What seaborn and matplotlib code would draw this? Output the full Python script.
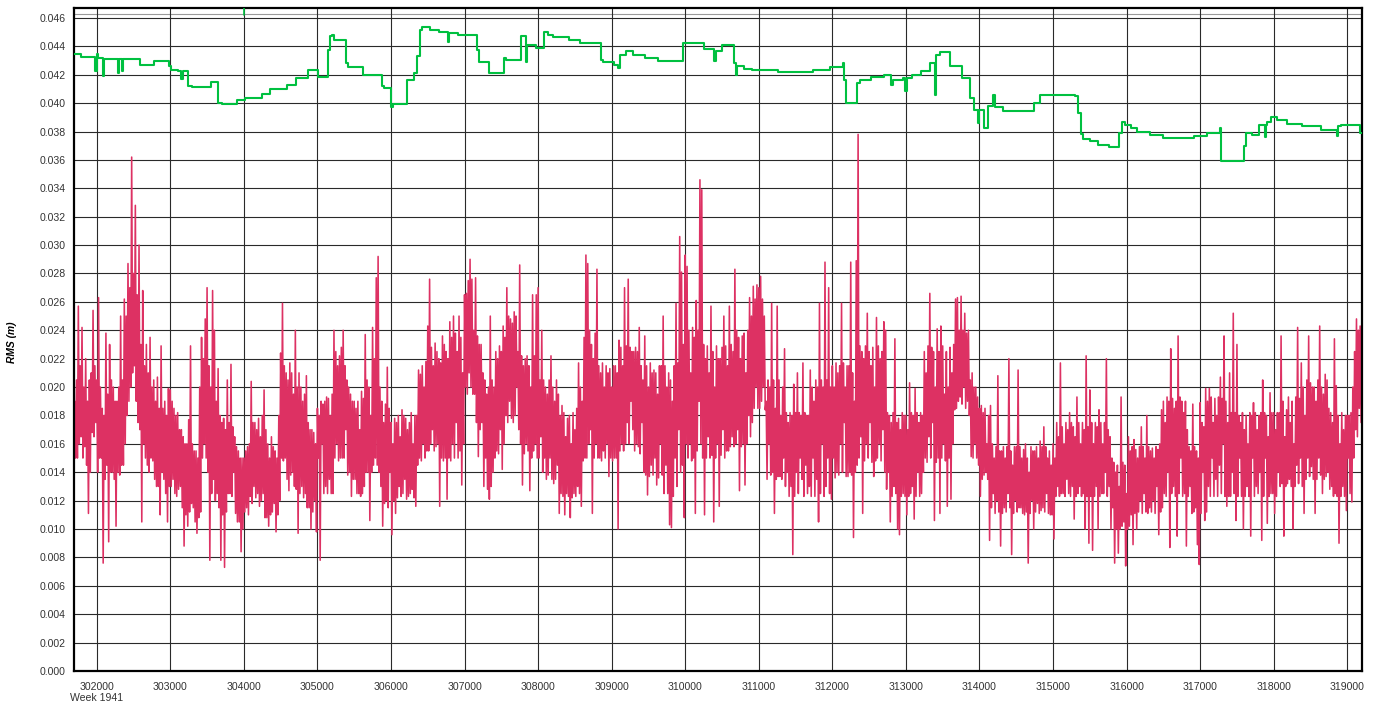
import numpy as np
import pandas as pd
import matplotlib
matplotlib.use("Agg")
import matplotlib.pyplot as plt
import seaborn as sns

# ---- data -------------------------------------------------------------
# Instantaneous RMS of GPS week 1941, decimated to 25 s bins starting at
# second 301700: per bin the maximum (hi) and minimum (lo), in 0.1 mm.
EPOCH_START = 301700
BIN_SECONDS = 25

hi_301700 = [190, 205, 257, 215, 242, 200, 220, 190, 205, 210, 254, 215]
lo_301700 = [150, 150, 160, 165, 150, 158, 145, 111, 140, 168, 165, 175]

hi_302000 = [205, 263, 200, 185, 180, 238, 195, 230, 205, 200, 190, 190, 200, 250, 205, 262, 250, 287, 270, 362,
             280, 328, 265, 300, 230, 268, 215, 230, 210, 235, 200, 205, 190, 207, 185, 229, 185, 190, 180, 199]
lo_302000 = [140, 150, 150, 76, 135, 145, 91, 140, 140, 135, 102, 140, 138, 145, 145, 160, 180, 190, 200, 210,
             215, 190, 175, 170, 105, 160, 150, 145, 140, 150, 148, 135, 130, 130, 110, 140, 135, 125, 105, 130]

hi_303000 = [198, 190, 185, 180, 182, 170, 170, 165, 160, 160, 177, 229, 160, 155, 155, 150, 200, 235, 220, 248,
             270, 215, 200, 268, 240, 190, 213, 180, 175, 178, 170, 205, 175, 216, 172, 165, 158, 155, 150, 150]
lo_303000 = [130, 135, 125, 123, 128, 130, 115, 88, 110, 102, 112, 118, 115, 105, 97, 108, 112, 150, 160, 150,
             140, 78, 125, 135, 120, 125, 115, 78, 110, 73, 112, 125, 125, 123, 140, 111, 105, 105, 84, 100]

hi_304000 = [150, 155, 158, 160, 204, 175, 175, 170, 178, 165, 180, 198, 170, 160, 150, 165, 158, 155, 150, 180,
             224, 259, 215, 210, 205, 217, 210, 195, 240, 200, 210, 200, 190, 195, 208, 175, 170, 170, 168, 160]
lo_304000 = [112, 115, 110, 123, 118, 130, 122, 125, 116, 120, 125, 108, 108, 102, 110, 112, 118, 98, 110, 120,
             150, 148, 150, 135, 127, 138, 140, 130, 128, 97, 125, 130, 122, 125, 115, 115, 100, 112, 120, 98]

hi_305000 = [185, 180, 190, 188, 190, 193, 192, 180, 195, 240, 225, 215, 222, 228, 240, 215, 205, 200, 195, 190,
             190, 185, 190, 170, 197, 192, 237, 205, 200, 180, 242, 220, 277, 292, 200, 190, 175, 188, 214, 185]
lo_305000 = [150, 78, 160, 125, 130, 125, 135, 125, 125, 150, 160, 148, 150, 150, 150, 170, 138, 140, 123, 135,
             135, 125, 125, 123, 125, 130, 140, 140, 106, 140, 145, 150, 145, 140, 130, 102, 118, 120, 115, 140]

hi_306000 = [175, 160, 178, 175, 180, 165, 184, 180, 178, 170, 175, 182, 160, 180, 180, 212, 209, 215, 200, 218,
             243, 276, 228, 215, 231, 225, 220, 217, 236, 230, 225, 220, 246, 235, 250, 238, 225, 250, 235, 210]
lo_306000 = [96, 120, 111, 122, 130, 123, 125, 135, 121, 123, 125, 128, 122, 116, 145, 150, 148, 160, 150, 155,
             155, 160, 170, 155, 158, 160, 116, 150, 148, 150, 121, 150, 148, 160, 150, 175, 150, 155, 131, 160]

hi_307000 = [265, 266, 275, 290, 276, 240, 277, 236, 230, 230, 210, 205, 195, 200, 250, 205, 200, 225, 220, 229,
             225, 243, 235, 270, 250, 248, 245, 253, 250, 225, 286, 222, 215, 220, 222, 215, 200, 265, 222, 265]
lo_307000 = [200, 195, 210, 200, 195, 195, 175, 151, 170, 175, 130, 150, 128, 121, 130, 140, 150, 155, 153, 170,
             142, 160, 180, 175, 190, 178, 175, 180, 200, 170, 160, 131, 153, 160, 155, 127, 150, 155, 160, 150]

hi_308000 = [270, 205, 240, 205, 200, 195, 205, 222, 200, 190, 205, 195, 180, 187, 182, 165, 178, 180, 160, 182,
             170, 185, 217, 200, 190, 235, 293, 287, 240, 230, 220, 238, 283, 215, 210, 217, 200, 215, 210, 213]
lo_308000 = [150, 165, 140, 150, 135, 138, 150, 135, 132, 135, 145, 111, 125, 123, 110, 125, 123, 108, 122, 125,
             123, 130, 125, 116, 148, 150, 150, 160, 170, 111, 150, 160, 150, 150, 148, 155, 150, 160, 137, 150]

hi_309000 = [200, 215, 215, 210, 233, 228, 215, 270, 229, 276, 228, 225, 225, 228, 225, 242, 215, 205, 236, 215,
             200, 217, 210, 212, 210, 195, 215, 215, 250, 215, 200, 210, 205, 190, 215, 259, 217, 306, 281, 230]
lo_309000 = [148, 150, 150, 100, 155, 160, 155, 160, 175, 160, 190, 170, 155, 160, 158, 153, 175, 140, 138, 124,
             137, 145, 138, 150, 131, 136, 160, 138, 125, 145, 125, 103, 101, 123, 150, 130, 170, 140, 145, 108]

hi_310000 = [293, 285, 240, 210, 242, 235, 261, 240, 346, 339, 230, 220, 229, 210, 257, 225, 200, 229, 220, 220,
             228, 250, 229, 215, 257, 230, 225, 283, 240, 235, 220, 236, 238, 210, 240, 263, 250, 271, 262, 272]
lo_310000 = [160, 150, 160, 148, 150, 111, 155, 190, 160, 150, 110, 150, 165, 150, 152, 105, 150, 160, 116, 152,
             170, 150, 155, 155, 158, 165, 158, 160, 170, 127, 158, 160, 131, 160, 180, 165, 175, 185, 200, 185]

hi_311000 = [270, 278, 262, 250, 190, 205, 200, 259, 205, 185, 257, 205, 180, 200, 227, 182, 175, 182, 180, 202,
             182, 210, 182, 180, 217, 182, 180, 180, 212, 200, 190, 205, 200, 259, 205, 200, 288, 205, 270, 200]
lo_311000 = [185, 190, 200, 184, 135, 160, 138, 140, 111, 135, 137, 137, 135, 150, 130, 140, 123, 130, 82, 123,
             140, 125, 150, 135, 123, 145, 125, 130, 123, 150, 123, 135, 105, 125, 160, 123, 130, 150, 125, 121]

hi_312000 = [215, 200, 217, 210, 215, 259, 217, 200, 215, 215, 288, 210, 190, 289, 378, 229, 225, 220, 229, 252,
             225, 215, 228, 200, 249, 229, 220, 225, 246, 240, 182, 180, 175, 182, 234, 175, 178, 170, 182, 180]
lo_312000 = [150, 136, 140, 138, 160, 140, 175, 137, 137, 140, 138, 94, 140, 145, 150, 165, 111, 148, 160, 150,
             175, 147, 137, 148, 150, 160, 148, 170, 140, 128, 140, 105, 123, 130, 125, 100, 96, 123, 125, 123]

hi_313000 = [180, 170, 203, 182, 180, 199, 182, 175, 182, 180, 225, 210, 229, 266, 228, 225, 200, 241, 225, 243,
             229, 195, 225, 200, 228, 210, 230, 262, 263, 240, 264, 240, 252, 238, 240, 205, 210, 200, 200, 193]
lo_313000 = [110, 123, 125, 130, 107, 123, 140, 123, 125, 140, 150, 147, 165, 150, 175, 106, 147, 150, 111, 150,
             160, 148, 116, 150, 121, 160, 184, 185, 190, 193, 188, 200, 185, 190, 180, 151, 150, 160, 150, 145]

hi_314000 = [185, 187, 182, 185, 160, 180, 187, 160, 150, 158, 208, 155, 155, 158, 150, 158, 220, 155, 145, 158,
             158, 212, 158, 150, 156, 160, 150, 140, 158, 155, 155, 158, 150, 162, 158, 172, 158, 150, 155, 145]
lo_314000 = [123, 135, 138, 140, 135, 92, 115, 125, 111, 120, 112, 88, 111, 115, 112, 125, 115, 82, 111, 120,
             112, 115, 115, 111, 110, 112, 76, 111, 120, 100, 112, 118, 111, 113, 115, 112, 125, 111, 110, 110]

hi_315000 = [160, 150, 175, 165, 217, 172, 160, 175, 170, 182, 175, 172, 165, 193, 175, 160, 175, 170, 222, 172,
             198, 175, 160, 175, 172, 184, 175, 160, 175, 220, 170, 165, 150, 147, 140, 145, 130, 193, 147, 145]
lo_315000 = [93, 123, 130, 123, 125, 125, 123, 135, 125, 123, 130, 107, 123, 125, 130, 123, 125, 100, 123, 90,
             123, 85, 123, 130, 100, 123, 125, 125, 140, 123, 130, 100, 115, 76, 100, 83, 100, 102, 105, 74]

hi_316000 = [125, 165, 155, 158, 163, 156, 150, 158, 172, 158, 150, 180, 158, 155, 157, 150, 158, 156, 160, 184,
             190, 175, 193, 190, 227, 192, 185, 190, 236, 193, 190, 182, 190, 170, 158, 155, 188, 158, 155, 150]
lo_316000 = [100, 102, 110, 89, 111, 100, 112, 120, 111, 125, 112, 111, 115, 112, 120, 111, 130, 96, 112, 115,
             125, 123, 140, 87, 125, 130, 123, 95, 125, 150, 123, 125, 88, 123, 130, 111, 112, 115, 89, 75]

hi_317000 = [189, 175, 172, 199, 190, 199, 193, 175, 192, 180, 193, 207, 192, 236, 190, 175, 210, 182, 252, 182,
             230, 180, 175, 182, 170, 180, 160, 182, 180, 189, 182, 170, 180, 182, 205, 182, 180, 165, 196, 182]
lo_317000 = [111, 140, 106, 112, 130, 123, 150, 123, 135, 123, 145, 125, 160, 123, 116, 123, 123, 140, 125, 106,
             123, 150, 123, 100, 123, 130, 123, 95, 150, 123, 130, 125, 140, 92, 123, 150, 104, 123, 125, 125]

hi_318000 = [182, 170, 182, 182, 236, 190, 165, 184, 193, 175, 190, 160, 193, 242, 192, 217, 200, 180, 205, 236,
             203, 200, 200, 190, 205, 243, 200, 195, 209, 205, 185, 182, 175, 234, 201, 180, 160, 182, 170, 180]
lo_318000 = [111, 123, 140, 130, 132, 95, 130, 132, 135, 130, 100, 130, 145, 132, 150, 130, 111, 135, 150, 137,
             144, 135, 111, 135, 150, 138, 125, 135, 137, 140, 128, 130, 123, 125, 123, 90, 123, 130, 123, 113]

hi_319000 = [180, 180, 182, 200, 225, 248, 240, 243]
lo_319000 = [150, 125, 119, 150, 170, 165, 185, 175]

# Running RMS: epochs (s) where the value changes, and the new value (m)
running_t = [301691, 301782, 301983, 301998, 302020, 302080, 302095, 302290, 302305, 302350,
             302362, 302584, 302785, 302985, 303014, 303100, 303150, 303170, 303243, 303290,
             303558, 303644, 303701, 303901, 304016, 304245, 304360, 304589, 304703, 304875,
             305010, 305150, 305175, 305200, 305230, 305390, 305410, 305619, 305877, 305906,
             306003, 306032, 306221, 306307, 306360, 306393, 306420, 306536, 306650, 306780,
             306795, 306908, 307166, 307190, 307338, 307538, 307560, 307767, 307830, 307845,
             307967, 308082, 308140, 308196, 308425, 308569, 308855, 308880, 309030, 309084,
             309113, 309198, 309285, 309456, 309628, 309971, 310258, 310390, 310420, 310500,
             310665, 310690, 310705, 310794, 310912, 311265, 311735, 311971, 312140, 312165,
             312190, 312335, 312382, 312529, 312706, 312794, 312820, 312960, 312990, 313010,
             313088, 313206, 313324, 313390, 313405, 313470, 313606, 313765, 313865, 313924,
             313985, 314000, 314060, 314110, 314180, 314210, 314323, 314735, 314823, 315300,
             315340, 315382, 315412, 315500, 315617, 315765, 315890, 315941, 315980, 316059,
             316147, 316323, 316500, 316911, 317088, 317265, 317282, 317594, 317620, 317706,
             317794, 317880, 317895, 317912, 317959, 318040, 318176, 318382, 318647, 318860,
             318875, 318912, 319176, 319200]
running_v = [0.04349, 0.04325, 0.04225, 0.04349, 0.04320, 0.04190, 0.04311, 0.04210, 0.04311, 0.04225,
             0.04311, 0.04271, 0.04300, 0.04264, 0.04236, 0.04225, 0.04170, 0.04225, 0.04124, 0.04115,
             0.04147, 0.04002, 0.03991, 0.04019, 0.04037, 0.04061, 0.04096, 0.04131, 0.04178, 0.04232,
             0.04185, 0.04377, 0.04470, 0.04482, 0.04447, 0.04283, 0.04253, 0.04199, 0.04124, 0.04108,
             0.03974, 0.03991, 0.04166, 0.04213, 0.04330, 0.04517, 0.04536, 0.04517, 0.04503, 0.04430,
             0.04494, 0.04480, 0.04377, 0.04288, 0.04213, 0.04318, 0.04306, 0.04470, 0.04290, 0.04412,
             0.04388, 0.04498, 0.04482, 0.04463, 0.04442, 0.04423, 0.04306, 0.04292, 0.04271, 0.04248,
             0.04342, 0.04365, 0.04342, 0.04318, 0.04295, 0.04423, 0.04381, 0.04294, 0.04365, 0.04412,
             0.04283, 0.04195, 0.04259, 0.04241, 0.04231, 0.04217, 0.04236, 0.04255, 0.04283, 0.04166,
             0.04001, 0.04142, 0.04166, 0.04184, 0.04201, 0.04130, 0.04166, 0.04177, 0.04083, 0.04177,
             0.04201, 0.04224, 0.04283, 0.04060, 0.04341, 0.04360, 0.04259, 0.04177, 0.04037, 0.03954,
             0.03860, 0.03954, 0.03825, 0.03978, 0.04060, 0.03973, 0.03943, 0.04001, 0.04060, 0.04048,
             0.03931, 0.03779, 0.03748, 0.03732, 0.03708, 0.03692, 0.03790, 0.03865, 0.03849, 0.03825,
             0.03795, 0.03772, 0.03755, 0.03767, 0.03790, 0.03826, 0.03591, 0.03696, 0.03790, 0.03772,
             0.03849, 0.03760, 0.03849, 0.03865, 0.03903, 0.03880, 0.03856, 0.03837, 0.03814, 0.03770,
             0.03837, 0.03847, 0.03790, 0.03790]

# Epoch flagged by the cursor tick at the top of the plot
cursor_t = 304000

y_ticks = [round(0.002 * i, 3) for i in range(24)]
x_ticks = list(range(302000, 319001, 1000))
week_label = "Week 1941"
y_label = "RMS (m)"

# ---- assemble ---------------------------------------------------------
hi_blocks = [hi_301700, hi_302000, hi_303000, hi_304000, hi_305000, hi_306000,
             hi_307000, hi_308000, hi_309000, hi_310000, hi_311000, hi_312000,
             hi_313000, hi_314000, hi_315000, hi_316000, hi_317000, hi_318000, hi_319000]
lo_blocks = [lo_301700, lo_302000, lo_303000, lo_304000, lo_305000, lo_306000,
             lo_307000, lo_308000, lo_309000, lo_310000, lo_311000, lo_312000,
             lo_313000, lo_314000, lo_315000, lo_316000, lo_317000, lo_318000, lo_319000]
hi = np.concatenate([np.asarray(b, float) for b in hi_blocks]) * 1e-4
lo = np.concatenate([np.asarray(b, float) for b in lo_blocks]) * 1e-4
n_bins = len(hi)
# each bin is traced max then min, half a bin apart
trace_vals = np.column_stack([hi, lo]).ravel()
trace_t = EPOCH_START + (BIN_SECONDS / 2.0) * np.arange(2 * n_bins)
inst = pd.DataFrame({"epoch": trace_t, "rms": trace_vals})
running = pd.DataFrame({"epoch": running_t, "rms": running_v})

RED = "#DD3163"
GREEN = "#00C040"

sns.set_style("white")
plt.rcParams["font.family"] = ["Liberation Sans", "DejaVu Sans"]
plt.rcParams["path.simplify"] = False

W, H = 1380, 706
fig = plt.figure(figsize=(W / 100, H / 100), dpi=100)
ax = fig.add_axes([74 / W, 35 / H, (1362 - 74) / W, (671 - 8) / H])

# grid
for yv in y_ticks:
    ax.axhline(yv, color="#2a2a2a", lw=0.8, zorder=0)
ax.axhline(0.04625, color="#9a9a9a", lw=0.8, zorder=0)
for xv in x_ticks:
    ax.axvline(xv, color="#2a2a2a", lw=0.8, zorder=0)

sns.lineplot(data=inst, x="epoch", y="rms", ax=ax, color=RED, lw=1.15,
             estimator=None, sort=False, zorder=2)
sns.lineplot(data=running, x="epoch", y="rms", ax=ax, color=GREEN, lw=1.5,
             estimator=None, sort=False, drawstyle="steps-post", zorder=3)
ax.axvline(cursor_t, ymin=0.989, ymax=1.0, color=GREEN, lw=1.2, zorder=3)

ax.set_xlim(301691, 319200)
ax.set_ylim(0.0, 0.0467)
ax.set_yticks(y_ticks)
ax.set_yticklabels([f"{v:.3f}" for v in y_ticks])
ax.set_xticks(x_ticks)
ax.set_xticklabels([str(v) for v in x_ticks])
ax.set_xlabel("")
ax.set_ylabel("")
ax.tick_params(axis="both", direction="out", length=4, width=0.8, color="black",
               labelsize=7.6, labelcolor="#333333", pad=2)
ax.tick_params(axis="x", pad=4)

for side in ["left", "right", "top", "bottom"]:
    ax.spines[side].set_visible(True)
    ax.spines[side].set_color("black")
    ax.spines[side].set_linewidth(1.6)

fig.text(70 / W, 1 - 698 / H, week_label, fontsize=7.6, color="#333333",
         ha="left", va="center")
fig.text(12 / W, 1 - 342 / H, y_label, fontsize=7.4, color="black",
         fontstyle="italic", fontweight="bold", rotation=90,
         ha="center", va="center")

fig.savefig("out.png", dpi=100, facecolor="white")
